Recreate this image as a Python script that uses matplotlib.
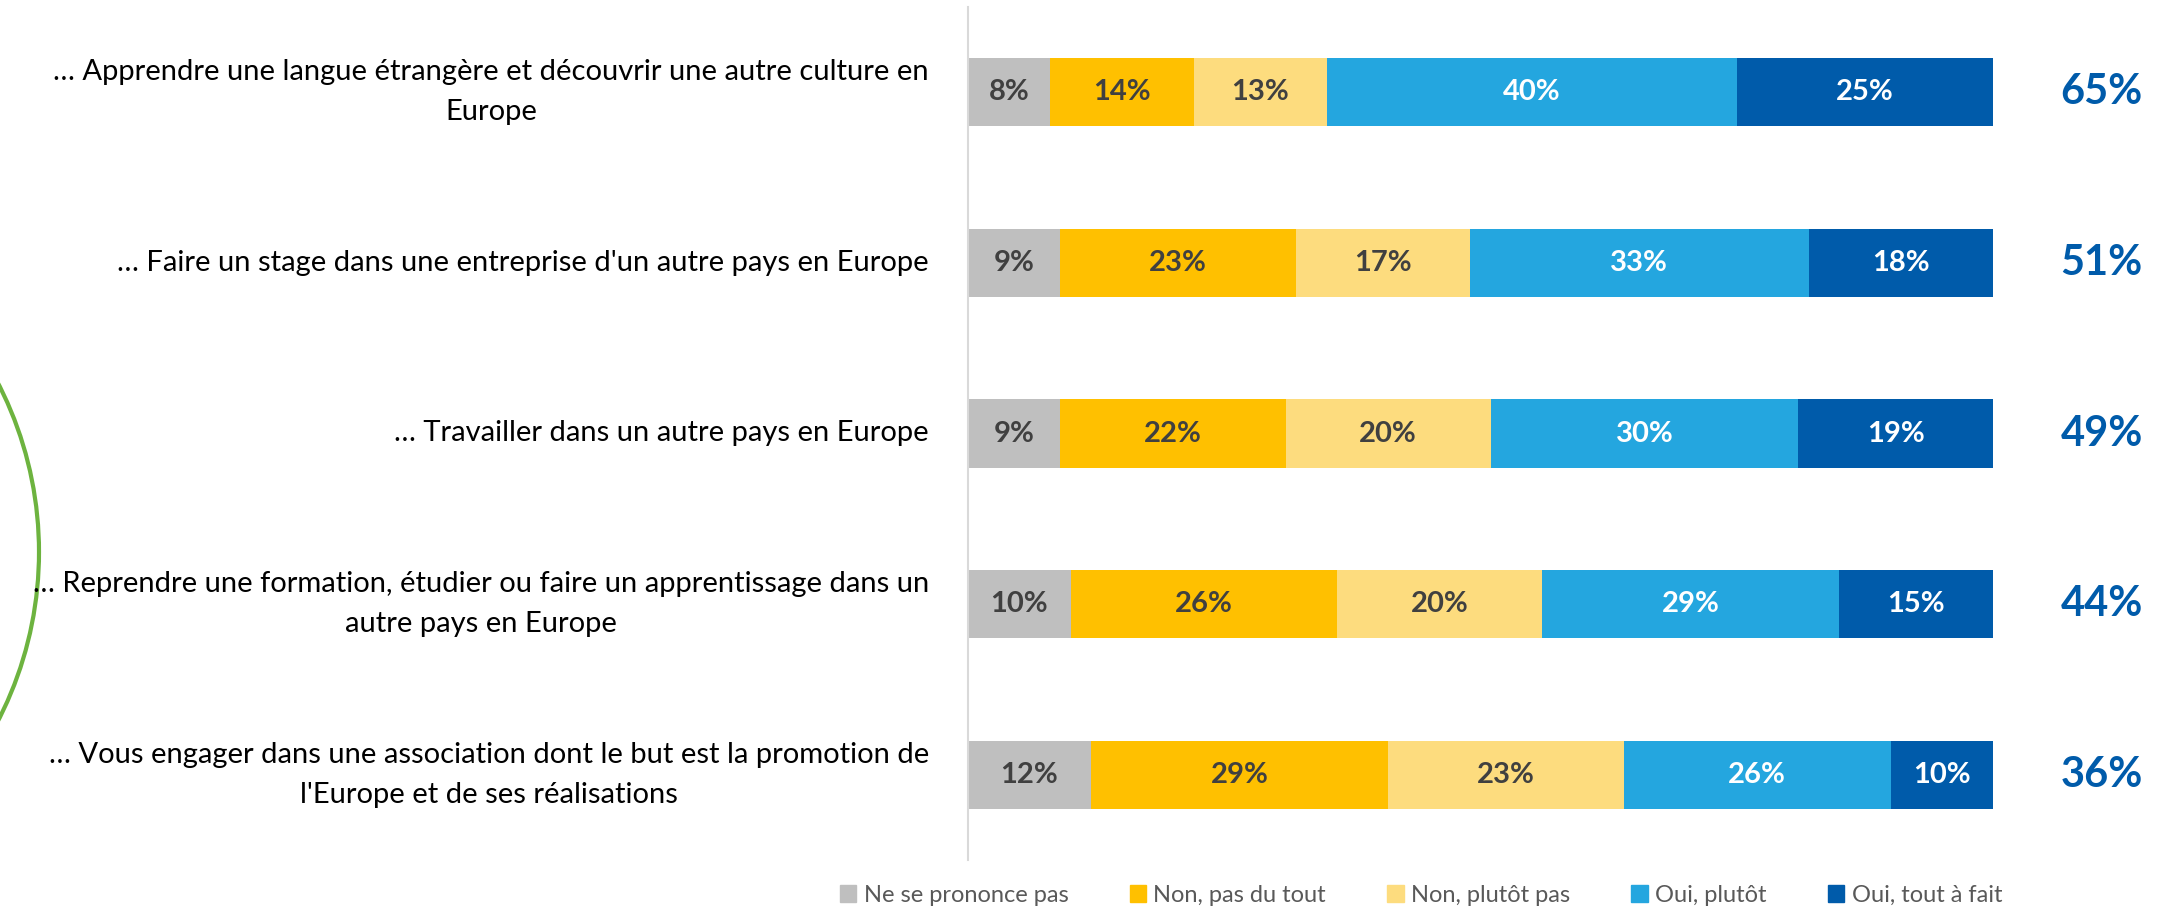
import numpy as np
import matplotlib.pyplot as plt
from matplotlib.patches import Circle, Patch

plt.rcParams['font.family'] = ['Lato', 'DejaVu Sans']

categories = [
    "… Apprendre une langue étrangère et découvrir une autre culture en\nEurope",
    "… Faire un stage dans une entreprise d'un autre pays en Europe",
    "… Travailler dans un autre pays en Europe",
    "… Reprendre une formation, étudier ou faire un apprentissage dans un\nautre pays en Europe",
    "… Vous engager dans une association dont le but est la promotion de\nl'Europe et de ses réalisations",
]
series_names = ["Ne se prononce pas", "Non, pas du tout", "Non, plutôt pas",
                "Oui, plutôt", "Oui, tout à fait"]
ne_se_prononce = [8, 9, 9, 10, 12]
non_pas_du_tout = [14, 23, 22, 26, 29]
non_plutot_pas = [13, 17, 20, 20, 23]
oui_plutot = [40, 33, 30, 29, 26]
oui_tout_a_fait = [25, 18, 19, 15, 10]
totals_oui = [65, 51, 49, 44, 36]

colors = ['#BFBFBF', '#FFC000', '#FDDC7E', '#24A6DF', '#005BAA']
text_colors = ['#404040', '#404040', '#404040', 'white', 'white']

W, H = 2175, 909
fig = plt.figure(figsize=(W / 100, H / 100), dpi=100)

# background axes in pixel coords for the green arc
bg = fig.add_axes([0, 0, 1, 1], zorder=0)
bg.set_xlim(0, W)
bg.set_ylim(H, 0)
bg.axis('off')
bg.add_patch(Circle((-329.5, 552), 368.5, fill=False, ec='#6DB33F', lw=3))

ax = fig.add_axes([968 / W, 1 - 860 / H, 1025 / W, 853 / H], zorder=1)
ax.patch.set_alpha(0)

y = np.arange(len(categories))
data = [ne_se_prononce, non_pas_du_tout, non_plutot_pas, oui_plutot, oui_tout_a_fait]
left = np.zeros(len(categories))
handles = []
for vals, name, c, tc in zip(data, series_names, colors, text_colors):
    vals = np.array(vals, dtype=float)
    ax.barh(y, vals, left=left, height=0.4, color=c, label=name)
    handles.append(Patch(color=c, label=name))
    for yi, l, v in zip(y, left, vals):
        ax.text(l + v / 2, yi, f"{int(v)}%", ha='center', va='center',
                color=tc, fontsize=21, fontweight='bold')
    left += vals

for yi, t in zip(y, totals_oui):
    ax.text(110.6, yi, f"{t}%", ha='center', va='center', color='#005BAA',
            fontsize=30, fontweight='bold', clip_on=False)

for yi, lab in zip(y, categories):
    ax.text(-3.8, yi, lab, ha='right', va='center', multialignment='center',
            fontsize=21, color='black', linespacing=1.65, clip_on=False)

ax.set_xlim(0, 100)
ax.set_ylim(4.5, -0.5)
ax.set_xticks([])
ax.set_yticks([])
for s in ['top', 'right', 'bottom']:
    ax.spines[s].set_visible(False)
ax.spines['left'].set_color('#D9D9D9')
ax.spines['left'].set_linewidth(1.5)

fig.legend(handles=handles, loc='center', bbox_to_anchor=(1421 / W, 1 - 895 / H),
           ncol=5, frameon=False, fontsize=17, handlelength=0.7, handleheight=0.7,
           handletextpad=0.3, columnspacing=2.6, labelcolor='#595959')

fig.savefig('out.png', dpi=100)
